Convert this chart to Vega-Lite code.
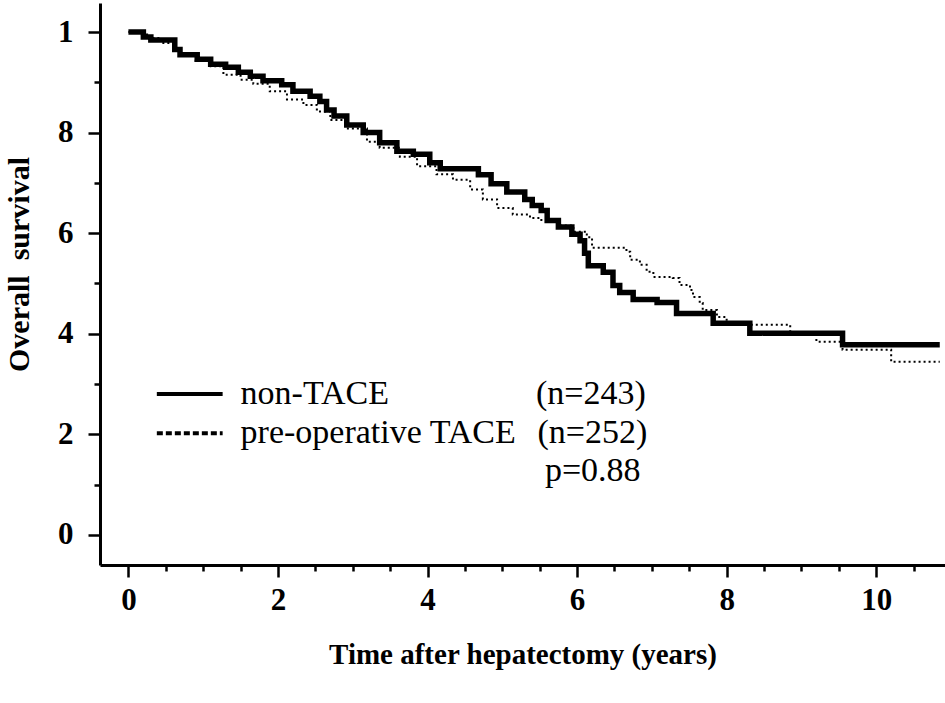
{
  "$schema": "https://vega.github.io/schema/vega-lite/v6.json",
  "width": 845,
  "height": 562,
  "autosize": "none",
  "padding": {"left": 100, "top": 3, "right": 0, "bottom": 138},
  "background": "white",
  "config": {
    "view": {"stroke": null},
    "font": "Liberation Serif"
  },
  "datasets": {
    "km": [
      {"group": "non-TACE", "years": 0, "survival": 1.0},
      {"group": "non-TACE", "years": 0.2, "survival": 0.99},
      {"group": "non-TACE", "years": 0.3, "survival": 0.984},
      {"group": "non-TACE", "years": 0.62, "survival": 0.965},
      {"group": "non-TACE", "years": 0.69, "survival": 0.955},
      {"group": "non-TACE", "years": 0.92, "survival": 0.946},
      {"group": "non-TACE", "years": 1.1, "survival": 0.936},
      {"group": "non-TACE", "years": 1.3, "survival": 0.93},
      {"group": "non-TACE", "years": 1.47, "survival": 0.92},
      {"group": "non-TACE", "years": 1.63, "survival": 0.912},
      {"group": "non-TACE", "years": 1.8, "survival": 0.903},
      {"group": "non-TACE", "years": 2.05, "survival": 0.895},
      {"group": "non-TACE", "years": 2.2, "survival": 0.882},
      {"group": "non-TACE", "years": 2.43, "survival": 0.872},
      {"group": "non-TACE", "years": 2.56, "survival": 0.862},
      {"group": "non-TACE", "years": 2.65, "survival": 0.845},
      {"group": "non-TACE", "years": 2.75, "survival": 0.833},
      {"group": "non-TACE", "years": 2.92, "survival": 0.815},
      {"group": "non-TACE", "years": 3.14, "survival": 0.8},
      {"group": "non-TACE", "years": 3.36, "survival": 0.78},
      {"group": "non-TACE", "years": 3.59, "survival": 0.763},
      {"group": "non-TACE", "years": 3.81, "survival": 0.757},
      {"group": "non-TACE", "years": 4.03, "survival": 0.74},
      {"group": "non-TACE", "years": 4.17, "survival": 0.728},
      {"group": "non-TACE", "years": 4.68, "survival": 0.716},
      {"group": "non-TACE", "years": 4.85, "survival": 0.698},
      {"group": "non-TACE", "years": 5.06, "survival": 0.682},
      {"group": "non-TACE", "years": 5.3, "survival": 0.667},
      {"group": "non-TACE", "years": 5.4, "survival": 0.655},
      {"group": "non-TACE", "years": 5.52, "survival": 0.645},
      {"group": "non-TACE", "years": 5.6, "survival": 0.625},
      {"group": "non-TACE", "years": 5.75, "survival": 0.612},
      {"group": "non-TACE", "years": 5.93, "survival": 0.598},
      {"group": "non-TACE", "years": 6.04, "survival": 0.585},
      {"group": "non-TACE", "years": 6.1, "survival": 0.56},
      {"group": "non-TACE", "years": 6.15, "survival": 0.535},
      {"group": "non-TACE", "years": 6.35, "survival": 0.522},
      {"group": "non-TACE", "years": 6.48, "survival": 0.496},
      {"group": "non-TACE", "years": 6.57, "survival": 0.482},
      {"group": "non-TACE", "years": 6.75, "survival": 0.468},
      {"group": "non-TACE", "years": 7.07, "survival": 0.462},
      {"group": "non-TACE", "years": 7.33, "survival": 0.44},
      {"group": "non-TACE", "years": 7.82, "survival": 0.421},
      {"group": "non-TACE", "years": 8.31, "survival": 0.401},
      {"group": "non-TACE", "years": 9.55, "survival": 0.378},
      {"group": "non-TACE", "years": 10.85, "survival": 0.378},
      {"group": "pre-operative TACE", "years": 0, "survival": 1.0},
      {"group": "pre-operative TACE", "years": 0.15, "survival": 0.995},
      {"group": "pre-operative TACE", "years": 0.25, "survival": 0.988},
      {"group": "pre-operative TACE", "years": 0.45, "survival": 0.978},
      {"group": "pre-operative TACE", "years": 0.6, "survival": 0.968},
      {"group": "pre-operative TACE", "years": 0.7, "survival": 0.953},
      {"group": "pre-operative TACE", "years": 0.9, "survival": 0.943},
      {"group": "pre-operative TACE", "years": 1.1, "survival": 0.932},
      {"group": "pre-operative TACE", "years": 1.27, "survival": 0.915},
      {"group": "pre-operative TACE", "years": 1.5, "survival": 0.905},
      {"group": "pre-operative TACE", "years": 1.67, "survival": 0.897},
      {"group": "pre-operative TACE", "years": 1.89, "survival": 0.882},
      {"group": "pre-operative TACE", "years": 2.12, "survival": 0.866},
      {"group": "pre-operative TACE", "years": 2.34, "survival": 0.855},
      {"group": "pre-operative TACE", "years": 2.52, "survival": 0.842},
      {"group": "pre-operative TACE", "years": 2.7, "survival": 0.825},
      {"group": "pre-operative TACE", "years": 2.92, "survival": 0.808},
      {"group": "pre-operative TACE", "years": 3.19, "survival": 0.782},
      {"group": "pre-operative TACE", "years": 3.36, "survival": 0.77},
      {"group": "pre-operative TACE", "years": 3.63, "survival": 0.752},
      {"group": "pre-operative TACE", "years": 3.86, "survival": 0.733},
      {"group": "pre-operative TACE", "years": 4.12, "survival": 0.717},
      {"group": "pre-operative TACE", "years": 4.34, "survival": 0.706},
      {"group": "pre-operative TACE", "years": 4.57, "survival": 0.687},
      {"group": "pre-operative TACE", "years": 4.74, "survival": 0.667},
      {"group": "pre-operative TACE", "years": 4.93, "survival": 0.65},
      {"group": "pre-operative TACE", "years": 5.14, "survival": 0.637},
      {"group": "pre-operative TACE", "years": 5.37, "survival": 0.63},
      {"group": "pre-operative TACE", "years": 5.5, "survival": 0.626},
      {"group": "pre-operative TACE", "years": 5.75, "survival": 0.615},
      {"group": "pre-operative TACE", "years": 5.95, "survival": 0.603},
      {"group": "pre-operative TACE", "years": 6.13, "survival": 0.592},
      {"group": "pre-operative TACE", "years": 6.2, "survival": 0.571},
      {"group": "pre-operative TACE", "years": 6.66, "survival": 0.563},
      {"group": "pre-operative TACE", "years": 6.71, "survival": 0.547},
      {"group": "pre-operative TACE", "years": 6.84, "survival": 0.537},
      {"group": "pre-operative TACE", "years": 6.93, "survival": 0.523},
      {"group": "pre-operative TACE", "years": 7.02, "survival": 0.513},
      {"group": "pre-operative TACE", "years": 7.28, "survival": 0.511},
      {"group": "pre-operative TACE", "years": 7.37, "survival": 0.497},
      {"group": "pre-operative TACE", "years": 7.51, "survival": 0.487},
      {"group": "pre-operative TACE", "years": 7.55, "survival": 0.473},
      {"group": "pre-operative TACE", "years": 7.64, "survival": 0.461},
      {"group": "pre-operative TACE", "years": 7.68, "survival": 0.447},
      {"group": "pre-operative TACE", "years": 7.87, "survival": 0.433},
      {"group": "pre-operative TACE", "years": 8.0, "survival": 0.418},
      {"group": "pre-operative TACE", "years": 8.85, "survival": 0.4},
      {"group": "pre-operative TACE", "years": 9.2, "survival": 0.384},
      {"group": "pre-operative TACE", "years": 9.55, "survival": 0.368},
      {"group": "pre-operative TACE", "years": 10.2, "survival": 0.344},
      {"group": "pre-operative TACE", "years": 10.85, "survival": 0.344}
    ]
  },
  "layer": [
    {
      "data": {"name": "km"},
      "mark": {"type": "line", "interpolate": "step-after", "color": "black"},
      "encoding": {
        "x": {
          "field": "years",
          "type": "quantitative",
          "scale": {"domain": [-0.38, 10.92], "nice": false, "zero": false},
          "axis": {
            "title": "Time after hepatectomy (years)",
            "values": [0, 0.5, 1, 1.5, 2, 2.5, 3, 3.5, 4, 4.5, 5, 5.5, 6, 6.5, 7, 7.5, 8, 8.5, 9, 9.5, 10, 10.5],
            "labelExpr": "datum.value % 2 == 0 ? '' + datum.value : ''",
            "grid": false,
            "domainColor": "black",
            "domainWidth": 3,
            "tickColor": "black",
            "tickWidth": 2.5,
            "tickSize": {"condition": {"test": "datum.value % 2 != 0", "value": 6}, "value": 12},
            "labelPadding": 8,
            "labelFont": "Liberation Serif",
            "labelFontSize": 31,
            "labelFontWeight": "bold",
            "labelColor": "black",
            "labelFlush": false,
            "labelOverlap": false,
            "titleFont": "Liberation Serif",
            "titleFontSize": 29,
            "titleFontWeight": "bold",
            "titleColor": "black",
            "titlePadding": 25
          }
        },
        "y": {
          "field": "survival",
          "type": "quantitative",
          "scale": {"domain": [-0.06, 1.0577], "nice": false, "zero": false},
          "axis": {
            "title": "Overall\u00a0 survival",
            "values": [0, 0.1, 0.2, 0.3, 0.4, 0.5, 0.6, 0.7, 0.8, 0.9, 1.0],
            "labelExpr": "datum.value == 1 ? '1' : (round(datum.value * 10) % 2 == 0 ? '' + round(datum.value * 10) : '')",
            "grid": false,
            "domainColor": "black",
            "domainWidth": 3,
            "tickColor": "black",
            "tickWidth": 2.5,
            "tickSize": {"condition": {"test": "round(datum.value * 10) % 2 == 1", "value": 6}, "value": 12},
            "labelPadding": 15,
            "labelFont": "Liberation Serif",
            "labelFontSize": 31,
            "labelFontWeight": "bold",
            "labelColor": "black",
            "labelFlush": false,
            "labelOverlap": false,
            "titleFont": "Liberation Serif",
            "titleFontSize": 30,
            "titleFontWeight": "bold",
            "titleColor": "black",
            "titleX": -72,
            "titleY": 261,
            "titleBaseline": "alphabetic"
          }
        },
        "strokeDash": {
          "field": "group",
          "type": "nominal",
          "scale": {"domain": ["non-TACE", "pre-operative TACE"], "range": [[1, 0], [2, 3]]},
          "legend": null
        },
        "strokeWidth": {
          "field": "group",
          "type": "nominal",
          "scale": {"domain": ["non-TACE", "pre-operative TACE"], "range": [5.5, 2]},
          "legend": null
        }
      }
    },
    {
      "data": {"values": [{}]},
      "mark": {"type": "rule", "color": "black", "strokeWidth": 4},
      "encoding": {"x": {"datum": 0.38}, "x2": {"datum": 1.26}, "y": {"datum": 0.2803}}
    },
    {
      "data": {"values": [{}]},
      "mark": {"type": "rule", "color": "black", "strokeWidth": 4, "strokeDash": [6, 3]},
      "encoding": {"x": {"datum": 0.38}, "x2": {"datum": 1.26}, "y": {"datum": 0.2022}}
    },
    {
      "data": {"values": [{}]},
      "mark": {"type": "text", "align": "left", "baseline": "middle", "font": "Liberation Serif", "fontSize": 34, "color": "black"},
      "encoding": {"x": {"datum": 1.5}, "y": {"datum": 0.2803}, "text": {"value": "non-TACE"}}
    },
    {
      "data": {"values": [{}]},
      "mark": {"type": "text", "align": "left", "baseline": "middle", "font": "Liberation Serif", "fontSize": 34, "color": "black"},
      "encoding": {"x": {"datum": 1.5}, "y": {"datum": 0.2022}, "text": {"value": "pre-operative TACE"}}
    },
    {
      "data": {"values": [{}]},
      "mark": {"type": "text", "align": "left", "baseline": "middle", "font": "Liberation Serif", "fontSize": 34, "color": "black"},
      "encoding": {"x": {"datum": 5.45}, "y": {"datum": 0.2803}, "text": {"value": "(n=243)"}}
    },
    {
      "data": {"values": [{}]},
      "mark": {"type": "text", "align": "left", "baseline": "middle", "font": "Liberation Serif", "fontSize": 34, "color": "black"},
      "encoding": {"x": {"datum": 5.47}, "y": {"datum": 0.2022}, "text": {"value": "(n=252)"}}
    },
    {
      "data": {"values": [{}]},
      "mark": {"type": "text", "align": "left", "baseline": "middle", "font": "Liberation Serif", "fontSize": 34, "color": "black"},
      "encoding": {"x": {"datum": 5.57}, "y": {"datum": 0.127}, "text": {"value": "p=0.88"}}
    }
  ]
}
